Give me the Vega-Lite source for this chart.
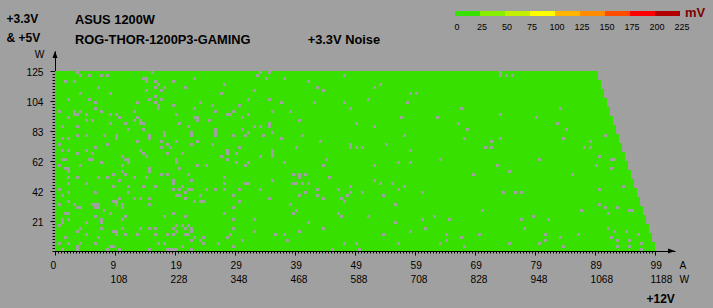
{
  "$schema": "https://vega.github.io/schema/vega-lite/v6.json",
  "width": 620,
  "height": 200,
  "autosize": {"type": "none"},
  "padding": {"left": 55, "top": 51, "right": 38, "bottom": 57},
  "background": "#a0a0a0",
  "config": {
    "view": {"stroke": null},
    "font": "Liberation Sans",
    "axis": {"domainColor": "#000", "tickColor": "#000", "labelColor": "#000", "titleColor": "#000", "grid": false, "labelFontSize": 10.2, "titleFontSize": 10.2, "labelFlush": false, "labelOverlap": false, "labelBound": false, "tickWidth": 1, "domainWidth": 1}
  },
  "title": {
    "text": "ASUS 1200W",
    "subtitle": "\u00a0ROG-THOR-1200P3-GAMING\u00a0\u00a0\u00a0\u00a0\u00a0\u00a0\u00a0\u00a0\u00a0\u00a0\u00a0\u00a0\u00a0\u00a0\u00a0\u00a0+3.3V Noise",
    "anchor": "start",
    "frame": "group",
    "dx": 20,
    "offset": -39,
    "fontSize": 12.85,
    "fontWeight": "bold",
    "color": "#000",
    "subtitleFontSize": 12.85,
    "subtitleFontWeight": "bold",
    "subtitleColor": "#000",
    "subtitlePadding": 7
  },
  "datasets": {
    "bands": [
      {"a0": 0, "x2": 100, "w0": 0, "w1": 6.25, "mv": 12},
      {"a0": 0, "x2": 99.5, "w0": 6.25, "w1": 12.5, "mv": 12},
      {"a0": 0, "x2": 99, "w0": 12.5, "w1": 18.75, "mv": 12},
      {"a0": 0, "x2": 98.5, "w0": 18.75, "w1": 25, "mv": 12},
      {"a0": 0, "x2": 98, "w0": 25, "w1": 31.25, "mv": 12},
      {"a0": 0, "x2": 97.5, "w0": 31.25, "w1": 37.5, "mv": 12},
      {"a0": 0, "x2": 97, "w0": 37.5, "w1": 43.75, "mv": 12},
      {"a0": 0, "x2": 96.5, "w0": 43.75, "w1": 50, "mv": 12},
      {"a0": 0, "x2": 96, "w0": 50, "w1": 56.25, "mv": 12},
      {"a0": 0, "x2": 95.5, "w0": 56.25, "w1": 62.5, "mv": 12},
      {"a0": 0, "x2": 95, "w0": 62.5, "w1": 68.75, "mv": 12},
      {"a0": 0, "x2": 94.5, "w0": 68.75, "w1": 75, "mv": 12},
      {"a0": 0, "x2": 94, "w0": 75, "w1": 81.25, "mv": 12},
      {"a0": 0, "x2": 93.5, "w0": 81.25, "w1": 87.5, "mv": 12},
      {"a0": 0, "x2": 93, "w0": 87.5, "w1": 93.75, "mv": 12},
      {"a0": 0, "x2": 92.5, "w0": 93.75, "w1": 100, "mv": 12},
      {"a0": 0, "x2": 92, "w0": 100, "w1": 106.25, "mv": 12},
      {"a0": 0, "x2": 91.5, "w0": 106.25, "w1": 112.5, "mv": 12},
      {"a0": 0, "x2": 91, "w0": 112.5, "w1": 118.75, "mv": 12},
      {"a0": 0, "x2": 90.5, "w0": 118.75, "w1": 125, "mv": 12}
    ],
    "holes": [
      {"x":3.75,"w":123.96},{"x":4.25,"w":121.88},{"x":5.75,"w":121.88},{"x":7.75,"w":121.88},{"x":8.75,"w":121.88},{"x":16.25,"w":123.96},{"x":14.75,"w":119.79},{"x":15.25,"w":119.79},{"x":15.25,"w":117.71},{"x":1.75,"w":117.71},{"x":3.25,"w":117.71},{"x":16.75,"w":117.71},{"x":17.25,"w":115.63},{"x":19.75,"w":117.71},{"x":23.25,"w":119.79},{"x":7.25,"w":113.54},{"x":16.75,"w":113.54},{"x":18.25,"w":113.54},{"x":21.75,"w":113.54},{"x":15.25,"w":111.46},{"x":17.75,"w":111.46},{"x":4.25,"w":109.38},{"x":9.25,"w":109.38},{"x":16.75,"w":107.29},{"x":2.25,"w":105.21},{"x":5.75,"w":105.21},{"x":15.75,"w":105.21},{"x":17.75,"w":105.21},{"x":6.75,"w":103.13},{"x":13.75,"w":103.13},{"x":16.75,"w":103.13},{"x":24.25,"w":103.13},{"x":19.75,"w":101.04},{"x":17.25,"w":101.04},{"x":17.25,"w":98.96},{"x":6.75,"w":98.96},{"x":23.25,"w":98.96},{"x":0.75,"w":96.88},{"x":3.25,"w":96.88},{"x":4.25,"w":96.88},{"x":7.75,"w":96.88},{"x":13.25,"w":96.88},{"x":3.25,"w":94.79},{"x":3.75,"w":94.79},{"x":5.25,"w":94.79},{"x":9.25,"w":94.79},{"x":10.25,"w":94.79},{"x":20.25,"w":94.79},{"x":2.25,"w":92.71},{"x":10.75,"w":92.71},{"x":13.75,"w":92.71},{"x":23.25,"w":92.71},{"x":23.75,"w":92.71},{"x":5.25,"w":90.63},{"x":6.25,"w":90.63},{"x":13.25,"w":90.63},{"x":14.25,"w":90.63},{"x":23.75,"w":90.63},{"x":9.25,"w":88.54},{"x":11.75,"w":88.54},{"x":14.25,"w":88.54},{"x":14.75,"w":88.54},{"x":20.75,"w":88.54},{"x":1.25,"w":86.46},{"x":3.75,"w":86.46},{"x":22.25,"w":86.46},{"x":12.25,"w":84.38},{"x":14.75,"w":84.38},{"x":22.75,"w":82.29},{"x":22.75,"w":80.21},{"x":18.25,"w":82.29},{"x":18.25,"w":80.21},{"x":8.25,"w":80.21},{"x":10.25,"w":80.21},{"x":10.25,"w":78.13},{"x":3.75,"w":80.21},{"x":5.25,"w":80.21},{"x":15.75,"w":80.21},{"x":15.75,"w":78.13},{"x":1.25,"w":78.13},{"x":2.25,"w":78.13},{"x":13.75,"w":76.04},{"x":17.75,"w":76.04},{"x":20.25,"w":76.04},{"x":23.75,"w":76.04},{"x":0.75,"w":73.96},{"x":8.75,"w":73.96},{"x":18.75,"w":73.96},{"x":22.75,"w":73.96},{"x":6.75,"w":71.88},{"x":17.75,"w":71.88},{"x":19.25,"w":71.88},{"x":1.25,"w":69.79},{"x":2.25,"w":69.79},{"x":5.25,"w":69.79},{"x":14.25,"w":69.79},{"x":3.75,"w":67.71},{"x":6.25,"w":67.71},{"x":14.75,"w":67.71},{"x":18.75,"w":67.71},{"x":21.25,"w":67.71},{"x":15.25,"w":65.63},{"x":11.25,"w":65.63},{"x":1.25,"w":63.54},{"x":1.75,"w":63.54},{"x":5.75,"w":63.54},{"x":6.25,"w":63.54},{"x":11.75,"w":63.54},{"x":12.25,"w":63.54},{"x":12.25,"w":61.46},{"x":20.25,"w":63.54},{"x":20.25,"w":61.46},{"x":7.75,"w":61.46},{"x":4.25,"w":59.38},{"x":0.75,"w":59.38},{"x":11.25,"w":59.38},{"x":23.75,"w":59.38},{"x":1.75,"w":57.29},{"x":2.25,"w":57.29},{"x":2.25,"w":55.21},{"x":15.75,"w":57.29},{"x":15.75,"w":55.21},{"x":20.75,"w":57.29},{"x":11.25,"w":55.21},{"x":9.75,"w":53.13},{"x":11.75,"w":53.13},{"x":17.75,"w":53.13},{"x":18.75,"w":53.13},{"x":22.25,"w":53.13},{"x":2.25,"w":51.04},{"x":3.75,"w":51.04},{"x":7.25,"w":51.04},{"x":8.75,"w":51.04},{"x":13.25,"w":51.04},{"x":15.25,"w":51.04},{"x":10.75,"w":48.96},{"x":22.75,"w":48.96},{"x":19.75,"w":48.96},{"x":19.75,"w":46.88},{"x":2.25,"w":46.88},{"x":5.25,"w":46.88},{"x":9.75,"w":44.79},{"x":12.25,"w":44.79},{"x":14.75,"w":44.79},{"x":16.75,"w":44.79},{"x":21.25,"w":44.79},{"x":19.75,"w":42.71},{"x":20.75,"w":42.71},{"x":22.25,"w":42.71},{"x":22.75,"w":42.71},{"x":0.75,"w":42.71},{"x":2.25,"w":40.63},{"x":6.75,"w":40.63},{"x":12.25,"w":40.63},{"x":21.75,"w":40.63},{"x":1.25,"w":38.54},{"x":20.25,"w":38.54},{"x":20.75,"w":38.54},{"x":24.25,"w":38.54},{"x":10.75,"w":36.46},{"x":13.25,"w":36.46},{"x":14.25,"w":36.46},{"x":15.75,"w":36.46},{"x":21.75,"w":36.46},{"x":9.75,"w":34.38},{"x":10.25,"w":34.38},{"x":10.25,"w":32.29},{"x":11.25,"w":32.29},{"x":11.25,"w":30.21},{"x":15.75,"w":32.29},{"x":23.25,"w":34.38},{"x":24.25,"w":34.38},{"x":0.75,"w":32.29},{"x":3.25,"w":32.29},{"x":6.25,"w":32.29},{"x":6.75,"w":32.29},{"x":7.25,"w":32.29},{"x":6.75,"w":30.21},{"x":7.25,"w":30.21},{"x":3.75,"w":30.21},{"x":4.25,"w":30.21},{"x":2.25,"w":34.38},{"x":8.25,"w":28.13},{"x":1.75,"w":26.04},{"x":2.25,"w":26.04},{"x":9.25,"w":26.04},{"x":19.75,"w":26.04},{"x":6.75,"w":23.96},{"x":11.75,"w":23.96},{"x":18.25,"w":23.96},{"x":21.75,"w":23.96},{"x":1.25,"w":21.88},{"x":1.25,"w":19.79},{"x":2.25,"w":21.88},{"x":7.75,"w":21.88},{"x":7.75,"w":19.79},{"x":11.25,"w":21.88},{"x":5.25,"w":19.79},{"x":0.75,"w":17.71},{"x":20.25,"w":17.71},{"x":21.25,"w":17.71},{"x":22.25,"w":17.71},{"x":4.25,"w":15.63},{"x":7.75,"w":15.63},{"x":11.25,"w":15.63},{"x":14.25,"w":15.63},{"x":15.75,"w":15.63},{"x":16.75,"w":15.63},{"x":19.75,"w":15.63},{"x":21.75,"w":15.63},{"x":22.75,"w":15.63},{"x":22.75,"w":13.54},{"x":3.75,"w":13.54},{"x":9.75,"w":13.54},{"x":10.25,"w":13.54},{"x":20.25,"w":13.54},{"x":5.25,"w":11.46},{"x":10.25,"w":11.46},{"x":11.75,"w":11.46},{"x":13.75,"w":11.46},{"x":16.75,"w":11.46},{"x":18.75,"w":11.46},{"x":19.75,"w":11.46},{"x":21.75,"w":11.46},{"x":22.25,"w":11.46},{"x":1.75,"w":9.38},{"x":7.25,"w":9.38},{"x":23.25,"w":9.38},{"x":0.75,"w":5.21},{"x":2.25,"w":5.21},{"x":4.25,"w":5.21},{"x":6.75,"w":5.21},{"x":17.25,"w":5.21},{"x":18.25,"w":5.21},{"x":24.25,"w":7.29},{"x":22.75,"w":7.29},{"x":3.75,"w":3.13},{"x":9.25,"w":3.13},{"x":9.75,"w":3.13},{"x":21.25,"w":3.13},{"x":1.25,"w":1.04},{"x":3.75,"w":1.04},{"x":8.75,"w":1.04},{"x":10.75,"w":1.04},{"x":15.75,"w":1.04},{"x":18.75,"w":1.04},{"x":19.25,"w":1.04},{"x":19.75,"w":1.04},{"x":20.25,"w":1.04},{"x":22.75,"w":1.04},
      {"x":34.25,"w":123.96},{"x":35.75,"w":123.96},{"x":33.75,"w":121.88},{"x":35.25,"w":119.79},{"x":38.25,"w":119.79},{"x":48.25,"w":121.88},{"x":28.25,"w":115.63},{"x":42.25,"w":117.71},{"x":43.75,"w":113.54},{"x":44.75,"w":111.46},{"x":27.75,"w":109.38},{"x":33.25,"w":111.46},{"x":32.25,"w":105.21},{"x":35.75,"w":105.21},{"x":37.75,"w":103.13},{"x":43.25,"w":103.13},{"x":48.25,"w":103.13},{"x":26.25,"w":101.04},{"x":30.75,"w":101.04},{"x":26.75,"w":96.88},{"x":29.75,"w":96.88},{"x":36.25,"w":96.88},{"x":39.25,"w":96.88},{"x":28.75,"w":94.79},{"x":29.25,"w":94.79},{"x":32.25,"w":94.79},{"x":31.25,"w":92.71},{"x":25.75,"w":90.63},{"x":40.75,"w":90.63},{"x":33.25,"w":86.46},{"x":34.25,"w":86.46},{"x":35.75,"w":88.54},{"x":35.75,"w":86.46},{"x":26.75,"w":84.38},{"x":26.75,"w":82.29},{"x":26.75,"w":80.21},{"x":31.25,"w":84.38},{"x":32.25,"w":82.29},{"x":36.25,"w":82.29},{"x":29.75,"w":80.21},{"x":31.75,"w":80.21},{"x":34.75,"w":80.21},{"x":41.25,"w":80.21},{"x":37.75,"w":78.13},{"x":44.25,"w":76.04},{"x":26.25,"w":73.96},{"x":30.75,"w":71.88},{"x":40.25,"w":71.88},{"x":28.75,"w":69.79},{"x":28.75,"w":67.71},{"x":36.25,"w":69.79},{"x":36.25,"w":67.71},{"x":36.25,"w":65.63},{"x":30.25,"w":67.71},{"x":27.75,"w":65.63},{"x":34.25,"w":65.63},{"x":28.75,"w":63.54},{"x":45.25,"w":63.54},{"x":30.25,"w":61.46},{"x":38.25,"w":61.46},{"x":32.25,"w":61.46},{"x":25.25,"w":59.38},{"x":31.75,"w":59.38},{"x":44.75,"w":59.38},{"x":39.75,"w":53.13},{"x":40.75,"w":53.13},{"x":40.75,"w":51.04},{"x":41.75,"w":53.13},{"x":28.25,"w":51.04},{"x":45.75,"w":51.04},{"x":36.25,"w":48.96},{"x":28.25,"w":46.88},{"x":31.75,"w":46.88},{"x":32.25,"w":46.88},{"x":39.75,"w":46.88},{"x":40.25,"w":46.88},{"x":41.25,"w":46.88},{"x":42.25,"w":46.88},{"x":25.25,"w":42.71},{"x":26.75,"w":42.71},{"x":28.25,"w":42.71},{"x":30.75,"w":42.71},{"x":34.25,"w":42.71},{"x":43.75,"w":42.71},{"x":47.25,"w":42.71},{"x":41.75,"w":40.63},{"x":29.75,"w":38.54},{"x":40.75,"w":38.54},{"x":43.75,"w":38.54},{"x":48.75,"w":38.54},{"x":35.75,"w":36.46},{"x":44.75,"w":36.46},{"x":47.75,"w":36.46},{"x":24.75,"w":34.38},{"x":30.75,"w":34.38},{"x":48.25,"w":34.38},{"x":39.25,"w":32.29},{"x":29.75,"w":30.21},{"x":40.25,"w":28.13},{"x":28.25,"w":26.04},{"x":39.75,"w":26.04},{"x":47.25,"w":26.04},{"x":47.75,"w":23.96},{"x":29.75,"w":21.88},{"x":33.25,"w":21.88},{"x":42.25,"w":19.79},{"x":29.75,"w":15.63},{"x":44.75,"w":15.63},{"x":33.25,"w":13.54},{"x":40.75,"w":13.54},{"x":29.25,"w":11.46},{"x":36.75,"w":11.46},{"x":38.25,"w":11.46},{"x":28.75,"w":9.38},{"x":24.75,"w":9.38},{"x":31.25,"w":7.29},{"x":38.75,"w":7.29},{"x":24.75,"w":5.21},{"x":27.25,"w":5.21},{"x":48.25,"w":5.21},{"x":29.75,"w":3.13},{"x":46.25,"w":1.04},
      {"x":54.25,"w":115.63},{"x":53.25,"w":113.54},{"x":59.25,"w":109.38},{"x":60.25,"w":109.38},{"x":52.25,"w":105.21},{"x":58.75,"w":103.13},{"x":49.25,"w":98.96},{"x":67.75,"w":98.96},{"x":57.75,"w":92.71},{"x":63.75,"w":92.71},{"x":50.25,"w":88.54},{"x":67.25,"w":88.54},{"x":53.25,"w":86.46},{"x":68.75,"w":84.38},{"x":58.25,"w":80.21},{"x":68.25,"w":78.13},{"x":72.75,"w":76.04},{"x":49.25,"w":73.96},{"x":49.25,"w":71.88},{"x":50.25,"w":71.88},{"x":51.25,"w":71.88},{"x":55.25,"w":73.96},{"x":71.75,"w":71.88},{"x":72.75,"w":71.88},{"x":59.25,"w":69.79},{"x":64.25,"w":63.54},{"x":57.25,"w":61.46},{"x":59.25,"w":61.46},{"x":53.25,"w":59.38},{"x":69.75,"w":53.13},{"x":53.25,"w":48.96},{"x":54.25,"w":46.88},{"x":56.25,"w":46.88},{"x":49.25,"w":44.79},{"x":58.25,"w":44.79},{"x":57.25,"w":42.71},{"x":49.25,"w":40.63},{"x":51.25,"w":40.63},{"x":61.25,"w":40.63},{"x":54.75,"w":38.54},{"x":56.75,"w":32.29},{"x":71.25,"w":28.13},{"x":52.25,"w":23.96},{"x":63.25,"w":23.96},{"x":61.25,"w":21.88},{"x":65.75,"w":21.88},{"x":56.75,"w":19.79},{"x":61.75,"w":15.63},{"x":59.25,"w":13.54},{"x":65.25,"w":11.46},{"x":70.75,"w":11.46},{"x":54.75,"w":11.46},{"x":67.75,"w":9.38},{"x":65.25,"w":7.29},{"x":50.25,"w":5.21},{"x":57.25,"w":5.21},{"x":64.25,"w":5.21},{"x":68.25,"w":3.13},{"x":50.75,"w":1.04},{"x":73.75,"w":59.38},
      {"x":74.25,"w":123.96},{"x":74.25,"w":121.88},{"x":75.25,"w":121.88},{"x":76.25,"w":121.88},{"x":84.25,"w":98.96},{"x":74.25,"w":94.79},{"x":80.25,"w":92.71},{"x":83.75,"w":88.54},{"x":85.25,"w":84.38},{"x":74.25,"w":78.13},{"x":84.75,"w":78.13},{"x":91.75,"w":80.21},{"x":89.25,"w":76.04},{"x":88.25,"w":71.88},{"x":89.25,"w":71.88},{"x":90.75,"w":65.63},{"x":80.75,"w":63.54},{"x":92.75,"w":63.54},{"x":93.25,"w":63.54},{"x":90.25,"w":59.38},{"x":92.75,"w":57.29},{"x":75.75,"w":55.21},{"x":86.25,"w":53.13},{"x":94.75,"w":44.79},{"x":90.75,"w":42.71},{"x":74.75,"w":40.63},{"x":76.75,"w":40.63},{"x":77.75,"w":40.63},{"x":90.75,"w":32.29},{"x":91.75,"w":30.21},{"x":93.75,"w":30.21},{"x":95.75,"w":28.13},{"x":96.25,"w":28.13},{"x":87.75,"w":28.13},{"x":92.25,"w":26.04},{"x":79.75,"w":23.96},{"x":77.75,"w":21.88},{"x":82.25,"w":21.88},{"x":78.25,"w":15.63},{"x":92.25,"w":15.63},{"x":93.25,"w":13.54},{"x":95.25,"w":13.54},{"x":81.75,"w":11.46},{"x":87.25,"w":11.46},{"x":97.25,"w":11.46},{"x":84.25,"w":9.38},{"x":92.75,"w":9.38},{"x":81.75,"w":7.29},{"x":93.75,"w":7.29},{"x":95.75,"w":7.29},{"x":75.75,"w":5.21},{"x":80.75,"w":5.21},{"x":97.75,"w":5.21},{"x":84.75,"w":3.13},{"x":93.75,"w":3.13},{"x":95.75,"w":3.13},{"x":97.75,"w":1.04}
    ],
    "legend": [
      {"lo": 0, "hi": 25, "mid": 12.5},
      {"lo": 25, "hi": 50, "mid": 37.5},
      {"lo": 50, "hi": 75, "mid": 62.5},
      {"lo": 75, "hi": 100, "mid": 87.5},
      {"lo": 100, "hi": 125, "mid": 112.5},
      {"lo": 125, "hi": 150, "mid": 137.5},
      {"lo": 150, "hi": 175, "mid": 162.5},
      {"lo": 175, "hi": 200, "mid": 187.5},
      {"lo": 200, "hi": 225, "mid": 212.5}
    ],
    "legendTicks": [
      {"mv": 0}, {"mv": 25}, {"mv": 50}, {"mv": 75}, {"mv": 100},
      {"mv": 125}, {"mv": 150}, {"mv": 175}, {"mv": 200}, {"mv": 225}
    ]
  },
  "layer": [
    {
      "data": {"name": "bands"},
      "mark": {"type": "rect", "strokeWidth": 0},
      "encoding": {
        "x": {
          "field": "a0", "type": "quantitative",
          "scale": {"domain": [0, 103.3333], "nice": false, "zero": false},
          "axis": {
            "orient": "bottom",
            "values": [0, 10, 20, 30, 40, 50, 60, 70, 80, 90, 100],
            "labelExpr": "datum.value == 0 ? '0' : [format(floor(datum.value * 0.99), 'd'), format(floor(datum.value * 0.99) * 12, 'd')]",
            "labelAlign": "left",
            "labelOffset": -5,
            "labelBaseline": "top",
            "labelPadding": 5,
            "labelLineHeight": 14.3,
            "tickSize": 4,
            "title": ["A", "W"],
            "titleAlign": "left",
            "titleBaseline": "top",
            "titleX": 624,
            "titleY": 9,
            "titleFontWeight": "normal",
            "titleLineHeight": 14.3
          }
        },
        "x2": {"field": "x2"},
        "y": {
          "field": "w0", "type": "quantitative",
          "scale": {"domain": [0, 138.8889], "nice": false, "zero": false},
          "axis": {
            "orient": "left",
            "values": [20.8333, 41.6667, 62.5, 83.3333, 104.1667, 125],
            "labelExpr": "format(floor(datum.value + 0.4), 'd')",
            "tickSize": 5,
            "labelPadding": 7,
            "labelBaseline": "middle",
            "labelOffset": 1.5,
            "title": "W",
            "titleAngle": 0,
            "titleX": -16,
            "titleY": 3,
            "titleAlign": "center",
            "titleBaseline": "middle",
            "titleFontWeight": "normal"
          }
        },
        "y2": {"field": "w1"},
        "color": {
          "field": "mv", "type": "quantitative",
          "scale": {"type": "threshold", "domain": [25, 50, 75, 100, 125, 150, 175, 200], "range": ["#38e000", "#88ee00", "#c0f000", "#ffff00", "#ffb400", "#ff8c00", "#ff4c00", "#ff0000", "#b00000"]},
          "legend": null
        }
      }
    },
    {
      "data": {"name": "holes"},
      "mark": {"type": "rect", "width": 3, "height": 3, "color": "#a0a0a0", "strokeWidth": 0},
      "encoding": {
        "x": {
          "field": "x", "type": "quantitative",
          "scale": {"domain": [0, 103.3333], "nice": false, "zero": false},
          "axis": {
            "orient": "bottom",
            "labels": false,
            "domain": false,
            "tickSize": 2,
            "values": [0,0.5,1,1.5,2,2.5,3,3.5,4,4.5,5,5.5,6,6.5,7,7.5,8,8.5,9,9.5,10,10.5,11,11.5,12,12.5,13,13.5,14,14.5,15,15.5,16,16.5,17,17.5,18,18.5,19,19.5,20,20.5,21,21.5,22,22.5,23,23.5,24,24.5,25,25.5,26,26.5,27,27.5,28,28.5,29,29.5,30,30.5,31,31.5,32,32.5,33,33.5,34,34.5,35,35.5,36,36.5,37,37.5,38,38.5,39,39.5,40,40.5,41,41.5,42,42.5,43,43.5,44,44.5,45,45.5,46,46.5,47,47.5,48,48.5,49,49.5,50,50.5,51,51.5,52,52.5,53,53.5,54,54.5,55,55.5,56,56.5,57,57.5,58,58.5,59,59.5,60,60.5,61,61.5,62,62.5,63,63.5,64,64.5,65,65.5,66,66.5,67,67.5,68,68.5,69,69.5,70,70.5,71,71.5,72,72.5,73,73.5,74,74.5,75,75.5,76,76.5,77,77.5,78,78.5,79,79.5,80,80.5,81,81.5,82,82.5,83,83.5,84,84.5,85,85.5,86,86.5,87,87.5,88,88.5,89,89.5,90,90.5,91,91.5,92,92.5,93,93.5,94,94.5,95,95.5,96,96.5,97,97.5,98,98.5,99,99.5,100],
            "title": "+12V",
            "titleAlign": "left",
            "titleBaseline": "alphabetic",
            "titleX": 591,
            "titleY": 51,
            "titleFontSize": 12,
            "titleFontWeight": "bold"
          }
        },
        "y": {
          "field": "w", "type": "quantitative",
          "scale": {"domain": [0, 138.8889], "nice": false, "zero": false},
          "axis": {
            "orient": "left",
            "labels": false,
            "domain": false,
            "tickSize": 3,
            "values": [0,2.0833,4.1667,6.25,8.3333,10.4167,12.5,14.5833,16.6667,18.75,20.8333,22.9167,25,27.0833,29.1667,31.25,33.3333,35.4167,37.5,39.5833,41.6667,43.75,45.8333,47.9167,50,52.0833,54.1667,56.25,58.3333,60.4167,62.5,64.5833,66.6667,68.75,70.8333,72.9167,75,77.0833,79.1667,81.25,83.3333,85.4167,87.5,89.5833,91.6667,93.75,95.8333,97.9167,100,102.0833,104.1667,106.25,108.3333,110.4167,112.5,114.5833,116.6667,118.75,120.8333,122.9167,125],
            "title": ["+3.3V", "& +5V"],
            "titleAngle": 0,
            "titleX": -49,
            "titleY": -37.5,
            "titleAlign": "left",
            "titleBaseline": "top",
            "titleFontSize": 12,
            "titleFontWeight": "bold",
            "titleLineHeight": 19.3
          }
        }
      }
    },
    {
      "data": {"values": [{}]},
      "mark": {"type": "point", "shape": "M-7,-2.5L0,0L-7,2.5Z", "size": 4, "filled": true, "color": "#000", "opacity": 1, "strokeWidth": 0},
      "encoding": {
        "x": {"datum": 103.3333, "type": "quantitative", "scale": {"domain": [0, 103.3333], "nice": false, "zero": false}, "axis": null},
        "y": {"datum": 0, "type": "quantitative", "scale": {"domain": [0, 138.8889], "nice": false, "zero": false}, "axis": null}
      }
    },
    {
      "data": {"values": [{}]},
      "mark": {"type": "point", "shape": "M-2.5,7L0,0L2.5,7Z", "size": 4, "filled": true, "color": "#000", "opacity": 1, "strokeWidth": 0},
      "encoding": {
        "x": {"datum": 0, "type": "quantitative", "scale": {"domain": [0, 103.3333], "nice": false, "zero": false}, "axis": null},
        "y": {"datum": 138.8889, "type": "quantitative", "scale": {"domain": [0, 138.8889], "nice": false, "zero": false}, "axis": null}
      }
    },
    {
      "data": {"name": "legend"},
      "mark": {"type": "rect", "strokeWidth": 0, "height": 5},
      "encoding": {
        "x": {"field": "lo", "type": "quantitative", "scale": {"domain": [0, 225], "range": [400, 625], "nice": false, "zero": false}, "axis": null},
        "x2": {"field": "hi"},
        "y": {"datum": 0.5, "type": "quantitative", "scale": {"domain": [0, 1], "range": [-35, -40], "nice": false, "zero": false}, "axis": null},
        "color": {
          "field": "mid", "type": "quantitative",
          "scale": {"type": "threshold", "domain": [25, 50, 75, 100, 125, 150, 175, 200], "range": ["#38e000", "#88ee00", "#c0f000", "#ffff00", "#ffb400", "#ff8c00", "#ff4c00", "#ff0000", "#b00000"]},
          "legend": null
        }
      }
    },
    {
      "data": {"name": "legendTicks"},
      "mark": {"type": "text", "fontSize": 9, "dx": 2, "align": "center", "baseline": "middle", "color": "#000"},
      "encoding": {
        "x": {"field": "mv", "type": "quantitative", "scale": {"domain": [0, 225], "range": [400, 625], "nice": false, "zero": false}, "axis": null},
        "y": {"datum": -2.1, "type": "quantitative", "scale": {"domain": [0, 1], "range": [-35, -40], "nice": false, "zero": false}, "axis": null},
        "text": {"field": "mv", "type": "quantitative", "format": "d"}
      }
    },
    {
      "data": {"values": [{}]},
      "mark": {"type": "text", "text": "mV", "fontSize": 13, "fontWeight": "bold", "align": "left", "baseline": "middle", "color": "#800000"},
      "encoding": {
        "x": {"datum": 230, "type": "quantitative", "scale": {"domain": [0, 225], "range": [400, 625], "nice": false, "zero": false}, "axis": null},
        "y": {"datum": 0.52, "type": "quantitative", "scale": {"domain": [0, 1], "range": [-35, -40], "nice": false, "zero": false}, "axis": null}
      }
    }
  ],
  "resolve": {
    "scale": {"x": "independent", "y": "independent"},
    "axis": {"x": "independent", "y": "independent"}
  }
}
